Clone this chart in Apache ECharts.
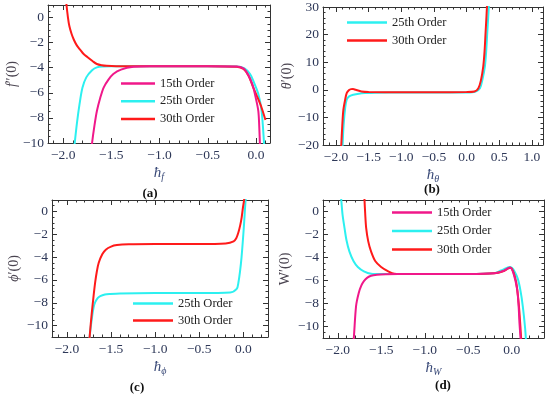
<!DOCTYPE html>
<html><head><meta charset="utf-8">
<script src="https://cdn.jsdelivr.net/npm/echarts@6/dist/echarts.min.js"></script>
<style>html,body{margin:0;padding:0;background:#fff}#c{width:550px;height:398px}</style>
</head><body><div id="c"></div>
<script>
// ---- Panel (a): f''(0) vs h_f ----
const a15x = [-1.72,-1.70,-1.675,-1.65,-1.615,-1.58,-1.53,-1.48,-1.4,-1.27,-1.1,-0.5,-0.2,-0.13,-0.097,-0.06,-0.028,0.0,0.024,0.033,0.04,0.05];
const a15y = [-11.5,-10,-8.6,-7.45,-6.4,-5.58,-4.95,-4.5,-4.15,-3.93,-3.88,-3.88,-3.9,-4.05,-4.37,-4.9,-5.58,-6.5,-7.45,-8.6,-10,-11.5];
const a25x = [-1.9,-1.88,-1.855,-1.83,-1.8,-1.76,-1.7,-1.65,-1.58,-1.5,-1.0,-0.5,-0.2,-0.12,-0.062,-0.02,0.024,0.058,0.083,0.095];
const a25y = [-11.5,-10,-8.3,-6.9,-5.6,-4.77,-4.2,-3.97,-3.9,-3.88,-3.88,-3.88,-3.9,-4.05,-4.5,-5.2,-6.1,-7.45,-10,-11.5];
const a30x = [-1.975,-1.965,-1.95,-1.935,-1.913,-1.89,-1.86,-1.82,-1.79,-1.74,-1.69,-1.65,-1.6,-1.55,-1.45,-1.0,-0.5,-0.2,-0.13,-0.08,-0.028,0.02,0.058,0.098];
const a30y = [2,1,0.0,-0.7,-1.29,-1.75,-2.2,-2.6,-2.89,-3.2,-3.5,-3.7,-3.8,-3.85,-3.88,-3.88,-3.88,-3.92,-4.1,-4.6,-5.58,-6.45,-7.19,-8.17];
// ---- Panel (b): theta'(0) vs h_theta ----
const b25x = [-1.91,-1.9,-1.885,-1.86,-1.837,-1.8,-1.735,-1.65,-1.556,-1.4,-1.0,-0.5,0.0,0.13,0.204,0.245,0.28,0.3,0.316,0.33,0.34,0.35];
const b25y = [-25,-20,-13,-6.5,-3.6,-2.4,-1.8,-1.4,-1.2,-1.05,-1.0,-1.0,-0.95,-0.7,0.6,4,8.5,14,20.6,26,30,34];
const b30x = [-1.93,-1.92,-1.905,-1.888,-1.86,-1.837,-1.8,-1.77,-1.74,-1.7,-1.61,-1.5,-1.0,-0.5,0.0,0.12,0.18,0.22,0.255,0.275,0.29,0.305,0.315];
const b30y = [-25,-20,-13,-7.3,-3.5,-1.2,-0.1,0.25,0.3,0.0,-0.6,-0.8,-0.85,-0.85,-0.8,-0.6,0.6,3.5,8.5,14,20.6,27,32];
// ---- Panel (c): phi'(0) vs h_phi ----
const c25x = [-1.75,-1.743,-1.72,-1.698,-1.68,-1.65,-1.623,-1.57,-1.51,-1.4,-1.0,-0.5,-0.15,-0.075,-0.055,-0.038,-0.02,0.0,0.01,0.02,0.026,0.03];
const c25y = [-12,-11,-9.5,-8.4,-7.95,-7.58,-7.42,-7.28,-7.23,-7.18,-7.15,-7.15,-7.1,-6.79,-6.2,-5.3,-4.0,-2.02,-0.9,0.36,1.0,1.5];
const c30x = [-1.75,-1.743,-1.72,-1.698,-1.68,-1.66,-1.64,-1.6,-1.56,-1.5,-1.434,-1.3,-1.0,-0.5,-0.2,-0.11,-0.08,-0.057,-0.035,-0.019,-0.005,0.008,0.015];
const c30y = [-12,-11,-9.0,-7.38,-6.2,-5.2,-4.5,-3.75,-3.35,-3.08,-2.95,-2.88,-2.86,-2.86,-2.8,-2.62,-2.35,-1.875,-1.2,-0.54,0.3,0.95,1.5];
// ---- Panel (d): W'(0) vs h_W ----
const d15x = [-1.83,-1.816,-1.79,-1.76,-1.73,-1.7,-1.66,-1.617,-1.55,-1.45,-1.3,-1.0,-0.5,-0.2,-0.1,-0.04,-0.02,0.02,0.061,0.078,0.088,0.1,0.11];
const d15y = [-12,-11,-8.22,-7.1,-6.45,-6.05,-5.75,-5.58,-5.5,-5.46,-5.44,-5.44,-5.44,-5.38,-5.18,-4.92,-4.87,-5.4,-6.75,-8.2,-9.7,-11,-12];
const d25x = [-1.97,-1.96,-1.945,-1.923,-1.9,-1.866,-1.82,-1.77,-1.7,-1.617,-1.5,-1.0,-0.5,-0.2,-0.123,-0.07,-0.027,0.0,0.03,0.069,0.1,0.126,0.153,0.165];
const d25y = [2,1,-0.3,-1.42,-2.5,-3.49,-4.3,-4.82,-5.2,-5.41,-5.44,-5.44,-5.44,-5.35,-5.12,-4.95,-4.82,-4.9,-5.2,-5.86,-6.9,-8.22,-10.15,-11.5];
const d30x = [-1.70,-1.693,-1.685,-1.674,-1.65,-1.617,-1.57,-1.502,-1.42,-1.349,-1.2,-1.0,-0.5,-0.2,-0.1,-0.046,-0.015,0.02,0.05,0.07,0.088,0.107,0.115];
const d30y = [2,1,-0.2,-1.42,-2.6,-3.49,-4.3,-4.82,-5.2,-5.41,-5.44,-5.44,-5.44,-5.38,-5.2,-4.97,-4.9,-5.3,-6.15,-7.3,-8.8,-11,-12];

// ---- tick labels ----
const xTicksA = [-2.0,-1.5,-1.0,-0.5,0.0];
const xTicksB = [-2.0,-1.5,-1.0,-0.5,0.0,0.5,1.0];
const xTicksC = [-2.0,-1.5,-1.0,-0.5,0.0];
const xTicksD = [-2.0,-1.5,-1.0,-0.5,0.0];
const yTicksA = [0,-2,-4,-6,-8,-10];
const yTicksB = [30,20,10,0,-10,-20];
const yTicksC = [0,-2,-4,-6,-8,-10];
const yTicksD = [0,-2,-4,-6,-8,-10];

const S15 = '15th Order', S25 = '25th Order', S30 = '30th Order';
const COL = {[S15]:'#f0188a', [S25]:'#2cf0f0', [S30]:'#ff1a1a'};
const SERIF = '"Liberation Serif","DejaVu Serif",serif';
const TXT = '#2e3858';

const panels = [
  {grid:{left:48,top:5,width:222,height:138}, xr:[-2.157,0.145], yr:[-10,1], xt:xTicksA, yt:yTicksA, xm:0.1, ym:0.5, xdec:1,
   series:[[S25,a25x,a25y],[S30,a30x,a30y],[S15,a15x,a15y]], xsub:'f', yname:'{it|f}{n|″(0)}', ygap:27,
   legend:{names:[S15,S25,S30], left:121, top:77, w:34, gap:4.7}, cap:['(a)',150,194]},
  {grid:{left:323,top:7,width:220,height:138}, xr:[-2.2,1.17], yr:[-20,30], xt:xTicksB, yt:yTicksB, xm:0.1, ym:2, xdec:1,
   series:[[S25,b25x,b25y],[S30,b30x,b30y]], xsub:'θ', yname:'{it|θ}{n|′(0)}', ygap:28,
   legend:{names:[S25,S30], left:347, top:16, w:40, gap:5}, cap:['(b)',432,190]},
  {grid:{left:52,top:200,width:216,height:137}, xr:[-2.17,0.28], yr:[-11,1], xt:xTicksC, yt:yTicksC, xm:0.1, ym:0.5, xdec:1,
   series:[[S25,c25x,c25y],[S30,c30x,c30y]], xsub:'ϕ', yname:'{it|ϕ}{n|′(0)}', ygap:31,
   legend:{names:[S25,S30], left:133, top:297, w:40, gap:4},  cap:['(c)',137,388]},
  {grid:{left:323,top:200,width:221,height:138}, xr:[-2.17,0.37], yr:[-11,1], xt:xTicksD, yt:yTicksD, xm:0.1, ym:0.5, xdec:1,
   series:[[S25,d25x,d25y],[S30,d30x,d30y],[S15,d15x,d15y]], xsub:'W', yname:'{n|W′(0)}', ygap:31,
   legend:{names:[S15,S25,S30], left:392, top:206, w:40, gap:5.5}, cap:['(d)',443,386]}
];

function minorVals(r, step){ const out=[]; let k=Math.ceil(r[0]/step-1e-9); for(;;k++){const v=+(k*step).toFixed(6); if(v>r[1]+1e-9)break; out.push(v);} return out; }
function fmt(dec){ return v => (v<0?'\u2212':'') + Math.abs(v).toFixed(dec); }

const grid=[], xAxis=[], yAxis=[], series=[], legend=[], graphic=[];
const AX = '#333';
panels.forEach((p,gi)=>{
  grid.push(p.grid);
  const xi = xAxis.length, yi = yAxis.length;
  const baseX = {type:'value', gridIndex:gi, min:p.xr[0], max:p.xr[1], splitLine:{show:false}};
  const baseY = {type:'value', gridIndex:gi, min:p.yr[0], max:p.yr[1], splitLine:{show:false}};
  const xminors = minorVals(p.xr, p.xm), yminors = minorVals(p.yr, p.ym);
  ['bottom','top'].forEach(pos=>{
    xAxis.push(Object.assign({}, baseX, {position:pos,
      axisLine:{show:true,onZero:false,lineStyle:{color:AX,width:1}},
      axisTick:{show:true,inside:true,length:5,customValues:p.xt,lineStyle:{color:AX}},
      axisLabel: pos==='bottom' ? {show:true,customValues:p.xt,formatter:fmt(p.xdec),color:TXT,fontFamily:SERIF,fontSize:13.5,margin:5} : {show:false},
      name: pos==='bottom' ? '{it|ħ}{sub|'+p.xsub+'}' : '',
      nameLocation:'middle', nameGap:21,
      nameTextStyle:{rich:{it:{fontFamily:SERIF,fontStyle:'italic',fontSize:15,color:'#3a4a78',verticalAlign:'middle'},
                           sub:{fontFamily:SERIF,fontStyle:'italic',fontSize:10,color:'#3a4a78',verticalAlign:'middle',padding:[8,0,0,0]}}}
    }));
    xAxis.push(Object.assign({}, baseX, {position:pos,
      axisLine:{show:false,onZero:false}, axisLabel:{show:false},
      axisTick:{show:true,inside:true,length:2.5,customValues:xminors,lineStyle:{color:AX}}}));
  });
  ['left','right'].forEach(pos=>{
    yAxis.push(Object.assign({}, baseY, {position:pos,
      axisLine:{show:true,onZero:false,lineStyle:{color:AX,width:1}},
      axisTick:{show:true,inside:true,length:5,customValues:p.yt,lineStyle:{color:AX}},
      axisLabel: pos==='left' ? {show:true,customValues:p.yt,formatter:fmt(0),color:TXT,fontFamily:SERIF,fontSize:13.5,margin:4} : {show:false},
      name: pos==='left' ? p.yname : '',
      nameLocation:'middle', nameRotate:90, nameGap:p.ygap,
      nameTextStyle:{rich:{it:{fontFamily:SERIF,fontStyle:'italic',fontSize:14,color:'#4a4450'},
                           n:{fontFamily:SERIF,fontSize:14,color:'#4a4450'}}}
    }));
    yAxis.push(Object.assign({}, baseY, {position:pos,
      axisLine:{show:false,onZero:false}, axisLabel:{show:false},
      axisTick:{show:true,inside:true,length:2.5,customValues:yminors,lineStyle:{color:AX}}}));
  });
  p.series.forEach(([name,xs,ys])=>{
    series.push({type:'line', name, xAxisIndex:xi, yAxisIndex:yi, showSymbol:false, smooth:0.3, clip:true,
      lineStyle:{width:2,color:COL[name]}, itemStyle:{color:COL[name]}, silent:true,
      data: xs.map((x,i)=>[x, ys[i]])});
  });
  legend.push({show:true, orient:'vertical', left:p.legend.left, top:p.legend.top, selectedMode:false,
    data:p.legend.names, icon:'rect', itemWidth:p.legend.w, itemHeight:2.5, itemGap:p.legend.gap, padding:0,
    textStyle:{fontFamily:SERIF,fontSize:12.5,color:'#222'}});
  graphic.push({type:'text', x:p.cap[1], y:p.cap[2], style:{text:p.cap[0], font:'bold 13px '+SERIF, fill:'#111', align:'center', verticalAlign:'middle'}});
});

const chart = echarts.init(document.getElementById('c'), null, {renderer:'canvas'});
chart.setOption({animation:false, backgroundColor:'#fff', grid, xAxis, yAxis, series, legend, graphic});
</script></body></html>
